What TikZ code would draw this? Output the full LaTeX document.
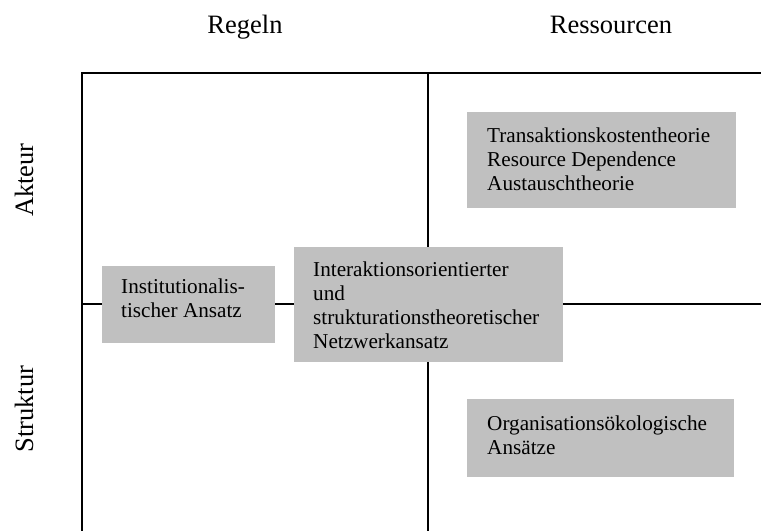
\documentclass[tikz,border=0pt]{standalone}
\usepackage{fontspec}
\setmainfont{Liberation Serif}
\definecolor{boxgray}{RGB}{192,192,192}
\begin{document}
\begin{tikzpicture}[x=1pt,y=-1pt,
  gridline/.style={line width=1.8pt, black},
  greybox/.style={fill=boxgray, draw=none, inner sep=0pt, anchor=north west},
  boxtext/.style={anchor=base west, inner sep=0pt, font=\fontsize{21.2}{24}\selectfont},
  axislabel/.style={anchor=base, inner sep=0pt, font=\fontsize{26.5}{30}\selectfont}]
\useasboundingbox (0,0) rectangle (761,531);
% grid
\coordinate (tl) at (82,73);
\coordinate (tr) at (761,73);
\coordinate (bl) at (82,531);
\coordinate (mt) at (428,73);
\coordinate (mb) at (428,531);
\coordinate (ml) at (82,304);
\coordinate (mr) at (761,304);
\draw[gridline, line join=miter] (tr) -- (tl) -- (bl);
\draw[gridline] (mt) -- (mb);
\draw[gridline] (ml) -- (mr);
% axis labels
\node[axislabel] (regeln) at (245,33) {Regeln};
\node[axislabel] (ressourcen) at (611,33) {Ressourcen};
\node[axislabel, rotate=90] (akteur) at (33,180) {Akteur};
\node[axislabel, rotate=90] (struktur) at (33,409) {Struktur};
% boxes
\node[greybox, minimum width=269pt, minimum height=96pt] (b1) at (467,112) {};
\node[boxtext] (t1) at (487,142) {\begin{tabular}[t]{@{}l@{}}Transaktionskostentheorie\\Resource Dependence\\Austauschtheorie\end{tabular}};
\node[greybox, minimum width=173pt, minimum height=77pt] (b2) at (102,266) {};
\node[boxtext] (t2) at (121,293) {\begin{tabular}[t]{@{}l@{}}Institutionalis-\\tischer Ansatz\end{tabular}};
\node[greybox, minimum width=269pt, minimum height=115pt] (b3) at (294,247) {};
\node[boxtext] (t3) at (313,276) {\begin{tabular}[t]{@{}l@{}}Interaktionsorientierter\\und\\strukturationstheoretischer\\Netzwerkansatz\end{tabular}};
\node[greybox, minimum width=267pt, minimum height=78pt] (b4) at (467,399) {};
\node[boxtext] (t4) at (487,430) {\begin{tabular}[t]{@{}l@{}}Organisationsökologische\\Ansätze\end{tabular}};
\end{tikzpicture}
\end{document}
